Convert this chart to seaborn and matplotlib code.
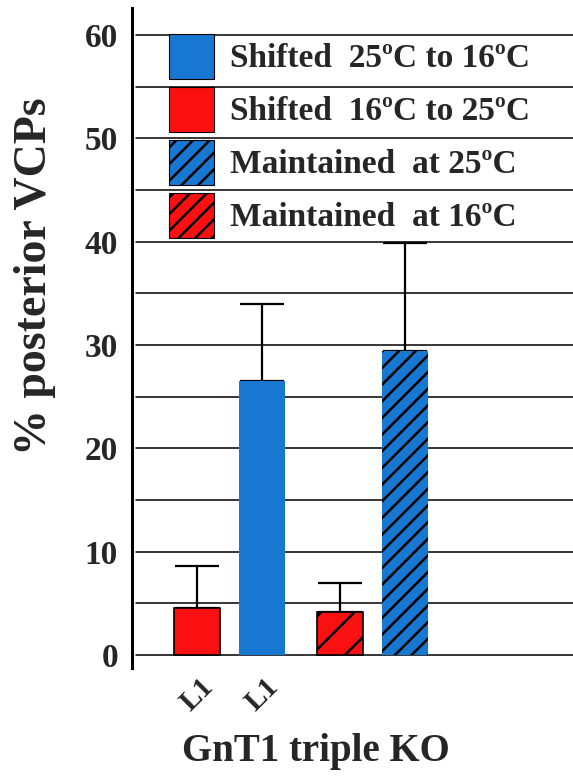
import numpy as np
import pandas as pd
import matplotlib
matplotlib.use('Agg')
import matplotlib.pyplot as plt
import matplotlib.transforms as mtransforms
import seaborn as sns
from matplotlib.patches import Patch

# Data
conditions = ['Shifted 16ºC to 25ºC', 'Shifted 25ºC to 16ºC',
              'Maintained at 16ºC', 'Maintained at 25ºC']
values = [4.5, 26.5, 4.2, 29.4]
err_up = [4.1, 7.5, 2.8, 10.5]
tick_labels = ['L1', 'L1']
legend_labels = ['Shifted  25ºC to 16ºC', 'Shifted  16ºC to 25ºC',
                 'Maintained  at 25ºC', 'Maintained  at 16ºC']

BLUE = '#1877d0'
RED = '#fa1010'
bar_colors = [RED, BLUE, RED, BLUE]
hatches = ['', '', '/', '//']
xpos = [0, 1, 2.2, 3.2]  # layout: bars come in pairs

sns.set_style('white')
plt.rcParams['font.family'] = ['Liberation Serif', 'DejaVu Serif']
plt.rcParams['font.weight'] = 'bold'
plt.rcParams['hatch.linewidth'] = 1.8
plt.rcParams['hatch.color'] = 'black'

df = pd.DataFrame({'x': xpos, 'y': values, 'cond': conditions})

fig = plt.figure(figsize=(5.73, 7.78), dpi=100)
ax = fig.add_axes([132 / 573, 1 - 668 / 778, 1 - 132 / 573, 660 / 778])

sns.barplot(data=df, x='x', y='y', hue='cond', palette=dict(zip(conditions, bar_colors)),
            native_scale=True, dodge=False, width=0.71, saturation=1, legend=False,
            ax=ax, zorder=3)

for p, h, c in zip(ax.patches, hatches, bar_colors):
    p.set_hatch(h)
    p.set_edgecolor('black')
    p.set_linewidth(1.2 if c == RED else 0)

ax.errorbar(xpos, values, yerr=[np.zeros(len(values)), err_up], fmt='none',
            ecolor='black', elinewidth=1.6, capsize=16, capthick=1.6, zorder=2)

# grid lines every 5 units
for g in np.arange(0, 61, 5):
    ax.axhline(g, xmin=0.01, color='black', lw=1.1, zorder=1)

ax.set_ylim(-1.26, 62.6)
ax.set_xlim(-1.0, 5.78)
ax.set_yticks(np.arange(0, 61, 10))
ax.set_yticklabels([str(int(t)) for t in np.arange(0, 61, 10)], fontsize=24, fontweight='bold')
ax.tick_params(axis='y', length=0, pad=10)
ax.set_xticks([0, 1])
ax.set_xticklabels(tick_labels, rotation=45, fontsize=21, fontweight='bold',
                   ha='center', va='top')
shift = mtransforms.ScaledTranslation(-8 / 100, 0, fig.dpi_scale_trans)
for lab in ax.get_xticklabels():
    lab.set_transform(lab.get_transform() + shift)
ax.tick_params(axis='x', length=0, pad=4)
ax.set_xlabel('')
ax.set_ylabel('% posterior VCPs', fontsize=33, fontweight='bold')
ax.yaxis.set_label_coords(-0.172, 0.594)

for s in ['top', 'right', 'bottom']:
    ax.spines[s].set_visible(False)
ax.spines['left'].set_linewidth(2.2)
ax.spines['left'].set_color('black')

handles = [Patch(facecolor=BLUE, edgecolor='black', lw=0.8),
           Patch(facecolor=RED, edgecolor='black', lw=0.8),
           Patch(facecolor=BLUE, edgecolor='black', lw=0.8, hatch='//'),
           Patch(facecolor=RED, edgecolor='black', lw=0.8, hatch='//')]
leg = ax.legend(handles, legend_labels, loc='upper left',
                bbox_to_anchor=(169 / 573, 1 - 34 / 778), bbox_transform=fig.transFigure,
                frameon=False, borderpad=0, borderaxespad=0,
                prop={'family': 'Liberation Serif', 'weight': 'bold', 'size': 24},
                handlelength=1.35, handleheight=1.70, labelspacing=0.24, handletextpad=0.48)
leg.set_zorder(5)

fig.text(316 / 573, 1 - 752 / 778, 'GnT1 triple KO', ha='center', va='center',
         fontsize=28, fontweight='bold')

fig.savefig('out.png', dpi=100, facecolor='white')
